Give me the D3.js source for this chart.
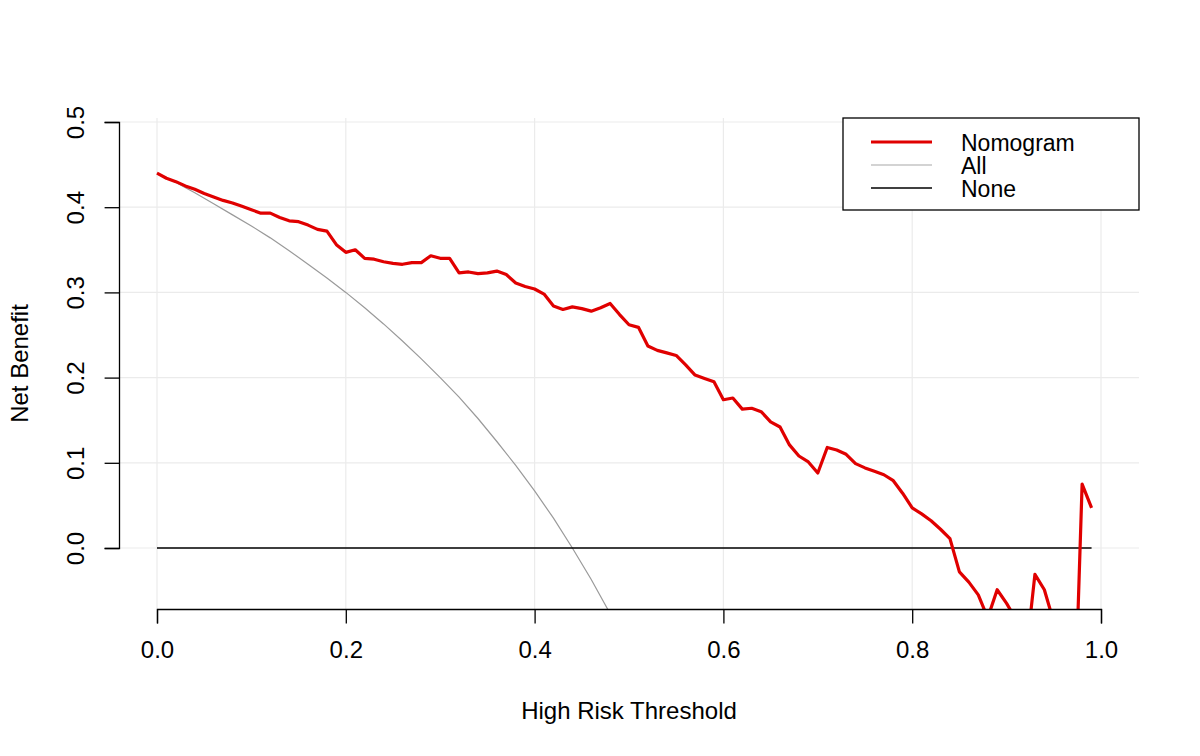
<!DOCTYPE html>
<html>
<head>
<meta charset="utf-8">
<script src="https://cdn.jsdelivr.net/npm/d3@7.9.0/dist/d3.min.js"></script>
<style>
  body { margin: 0; background: #fff; }
  svg { display: block; font-family: "Liberation Sans", Arial, sans-serif; }
</style>
</head>
<body>
<svg width="1200" height="756"></svg>
<script>
// thresholds 0.00 .. 0.99
const thresholds = d3.range(100).map((i) => i / 100);

// net benefit of the nomogram
const nomogram = [
  0.440, 0.434, 0.430, 0.425, 0.421, 0.416, 0.412, 0.408, 0.405, 0.401,
  0.397, 0.393, 0.393, 0.388, 0.384, 0.383, 0.379, 0.374, 0.372, 0.356,
  0.347, 0.350, 0.340, 0.339, 0.336, 0.334, 0.333, 0.335, 0.335, 0.343,
  0.340, 0.340, 0.323, 0.324, 0.322, 0.323, 0.325, 0.321, 0.311, 0.307,
  0.304, 0.298, 0.284, 0.280, 0.283, 0.281, 0.278, 0.282, 0.287, 0.274,
  0.262, 0.259, 0.237, 0.232, 0.229, 0.226, 0.215, 0.203, 0.199, 0.195,
  0.174, 0.176, 0.163, 0.164, 0.160, 0.148, 0.142, 0.121, 0.108, 0.101,
  0.088, 0.118, 0.115, 0.110, 0.099, 0.094, 0.090, 0.086, 0.079, 0.064,
  0.047, 0.040, 0.032, 0.022, 0.011, -0.028, -0.040, -0.055, -0.082, -0.049,
  -0.065, -0.084, -0.132, -0.031, -0.049, -0.087, -0.200, -0.271, 0.075, 0.047
];

// treat-all curve, every 0.02
const allX = [0.00, 0.02, 0.04, 0.06, 0.08, 0.10, 0.12, 0.14, 0.16, 0.18, 0.20, 0.22, 0.24,
  0.26, 0.28, 0.30, 0.32, 0.34, 0.36, 0.38, 0.40, 0.42, 0.44, 0.46, 0.48, 0.50];
const allY = [0.440, 0.429, 0.417, 0.404, 0.391, 0.378, 0.364, 0.349, 0.333, 0.317, 0.300, 0.282, 0.263,
  0.243, 0.222, 0.200, 0.177, 0.152, 0.125, 0.097, 0.067, 0.035, 0.000, -0.037, -0.077, -0.120];

const noneX = [0, 0.99];
const noneY = [0, 0];

const xTicks = [0, 0.2, 0.4, 0.6, 0.8, 1.0];
const yTicks = [0, 0.1, 0.2, 0.3, 0.4, 0.5];

const legendLabels = ['Nomogram', 'All', 'None'];
const legendColors = ['#e00000', '#a8a8a8', '#000000'];
const legendWidths = [3.2, 1.2, 1.3];

const svg = d3.select('svg');

const x = d3.scaleLinear().domain([0, 1]).range([157, 1101]);
const y = d3.scaleLinear().domain([0, 0.5]).range([548, 122]);

// plot region (R adds 4% each side)
const plot = { left: 119, right: 1139, top: 118, bottom: 609 };

svg.append('clipPath').attr('id', 'clip')
  .append('rect')
  .attr('x', plot.left).attr('y', plot.top)
  .attr('width', plot.right - plot.left).attr('height', plot.bottom - plot.top);

// grid
const grid = svg.append('g').attr('stroke', '#ebebeb').attr('stroke-width', 1.2);
xTicks.forEach((t) => {
  grid.append('line')
    .attr('x1', x(t)).attr('x2', x(t))
    .attr('y1', plot.top).attr('y2', plot.bottom);
});
yTicks.forEach((t) => {
  grid.append('line')
    .attr('x1', plot.left).attr('x2', plot.right)
    .attr('y1', y(t)).attr('y2', y(t));
});

const line = d3.line().x((d) => x(d[0])).y((d) => y(d[1]));
const lines = svg.append('g').attr('clip-path', 'url(#clip)').attr('fill', 'none');

lines.append('path')
  .attr('d', line(allX.map((d, i) => [d, allY[i]])))
  .attr('stroke', '#9a9a9a').attr('stroke-width', legendWidths[1]);

lines.append('path')
  .attr('d', line(noneX.map((d, i) => [d, noneY[i]])))
  .attr('stroke', legendColors[2]).attr('stroke-width', legendWidths[2]);

lines.append('path')
  .attr('d', line(thresholds.map((d, i) => [d, nomogram[i]])))
  .attr('stroke', legendColors[0]).attr('stroke-width', legendWidths[0])
  .attr('stroke-linejoin', 'round');

// axes
const xAxis = d3.axisBottom(x).tickValues(xTicks).tickFormat(d3.format('.1f'))
  .tickSizeOuter(0).tickSize(14.4).tickPadding(18);
const gx = svg.append('g').attr('transform', `translate(0,${plot.bottom})`).call(xAxis);
gx.select('.domain').attr('stroke-width', 1.3);
gx.selectAll('.tick line').attr('stroke-width', 1.3);
gx.selectAll('text').attr('font-size', 24).attr('fill', '#000')
  .attr('font-family', '"Liberation Sans", Arial, sans-serif');

const yAxis = d3.axisLeft(y).tickValues(yTicks).tickFormat(d3.format('.1f'))
  .tickSizeOuter(0).tickSize(14.4);
const gy = svg.append('g').attr('transform', `translate(${plot.left},0)`).call(yAxis);
gy.select('.domain').attr('stroke-width', 1.3);
gy.selectAll('.tick line').attr('stroke-width', 1.3);
gy.selectAll('text')
  .attr('font-size', 24).attr('fill', '#000')
  .attr('font-family', '"Liberation Sans", Arial, sans-serif')
  .attr('x', null)
  .attr('text-anchor', 'middle')
  .attr('transform', 'translate(-35,0) rotate(-90)')
  .attr('dy', '0');

// axis titles
svg.append('text')
  .attr('x', (plot.left + plot.right) / 2).attr('y', 719)
  .attr('text-anchor', 'middle').attr('font-size', 24)
  .text('High Risk Threshold');

svg.append('text')
  .attr('transform', `translate(28,${(plot.top + plot.bottom) / 2}) rotate(-90)`)
  .attr('text-anchor', 'middle').attr('font-size', 24)
  .text('Net Benefit');

// legend
const legend = svg.append('g');
legend.append('rect')
  .attr('x', 843).attr('y', plot.top).attr('width', plot.right - 843).attr('height', 92)
  .attr('fill', '#fff').attr('stroke', '#000').attr('stroke-width', 1.3);

legendLabels.forEach((label, i) => {
  const ly = 142 + i * 23;
  legend.append('line')
    .attr('x1', 871).attr('x2', 932).attr('y1', ly).attr('y2', ly)
    .attr('stroke', legendColors[i]).attr('stroke-width', legendWidths[i]);
  legend.append('text')
    .attr('x', 961).attr('y', ly + 1).attr('dy', '0.35em')
    .attr('font-size', 23).text(label);
});
</script>
</body>
</html>
